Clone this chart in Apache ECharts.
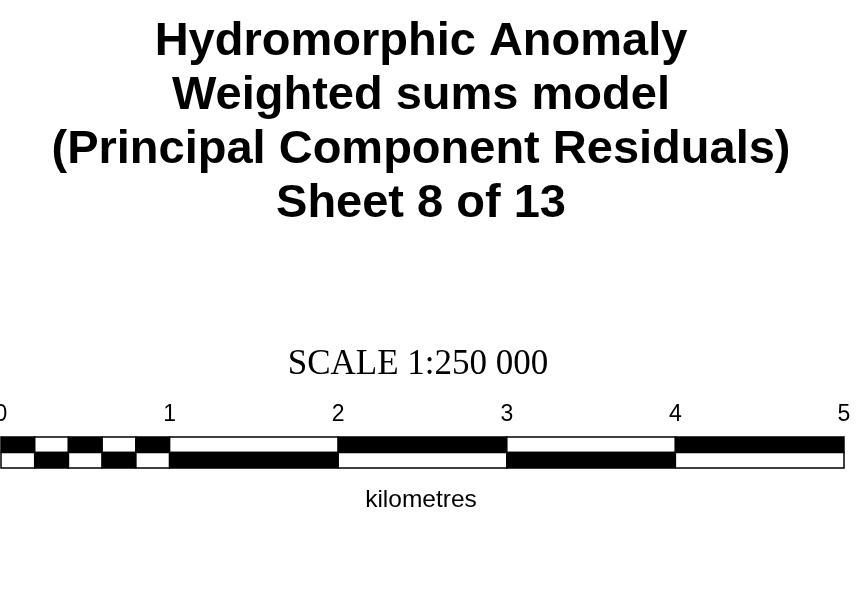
<!DOCTYPE html>
<html>
<head>
<meta charset="utf-8">
<script src="https://cdn.jsdelivr.net/npm/echarts@6/dist/echarts.min.js"></script>
<style>html,body{margin:0;padding:0;background:#fff;}#c{width:861px;height:591px;}</style>
</head>
<body>
<div id="c"></div>
<script>
const titleLines = ['Hydromorphic Anomaly', 'Weighted sums model', '(Principal Component Residuals)', 'Sheet 8 of 13'];
const scaleText = 'SCALE 1:250 000';
const unitText = 'kilometres';
const tickLabels = ['0', '1', '2', '3', '4', '5'];
const segStart = [0, 0.2, 0.4, 0.6, 0.8, 1, 2, 3, 4];
const segEnd = [0.2, 0.4, 0.6, 0.8, 1, 2, 3, 4, 5];
const topRowFill = ['#000', '#fff', '#000', '#fff', '#000', '#fff', '#000', '#fff', '#000'];
const bottomRowFill = ['#fff', '#000', '#fff', '#000', '#fff', '#000', '#fff', '#000', '#fff'];

const data = [];
segStart.forEach((s, i) => {
  data.push([s, segEnd[i], 1, topRowFill[i]]);
  data.push([s, segEnd[i], 0, bottomRowFill[i]]);
});

const chart = echarts.init(document.getElementById('c'), null, {renderer: 'canvas'});
chart.setOption({
  backgroundColor: '#fff',
  animation: false,
  grid: {left: 1, right: 17, top: 437, height: 31, containLabel: false, outerBoundsMode: 'none'},
  xAxis: {
    type: 'value', position: 'top', min: 0, max: 5, interval: 1,
    axisLine: {show: false}, axisTick: {show: false}, splitLine: {show: false},
    axisLabel: {
      show: true, margin: 11, fontSize: 23, color: '#000',
      fontFamily: 'Liberation Sans, Arial, sans-serif',
      formatter: v => tickLabels[Math.round(v)]
    }
  },
  yAxis: {
    type: 'value', min: 0, max: 2, show: false
  },
  series: [{
    type: 'custom',
    data: data,
    renderItem: function (params, api) {
      const p0 = api.coord([api.value(0), api.value(2) + 1]);
      const p1 = api.coord([api.value(1), api.value(2)]);
      return {
        type: 'rect',
        shape: {x: p0[0], y: p0[1], width: p1[0] - p0[0], height: p1[1] - p0[1]},
        style: {fill: data[params.dataIndex][3], stroke: '#000', lineWidth: 1.5}
      };
    }
  }],
  graphic: [
    {
      type: 'text', x: 421, y: 123,
      style: {
        text: titleLines.join('\n'), fill: '#000',
        font: 'bold 47px "Liberation Sans", Arial, sans-serif',
        lineHeight: 54.3, align: 'center', verticalAlign: 'middle',
        textAlign: 'center', textVerticalAlign: 'middle'
      }
    },
    {
      type: 'text', x: 418, y: 365,
      style: {
        text: scaleText, fill: '#000',
        font: '35px "Liberation Serif", "Times New Roman", serif',
        align: 'center', verticalAlign: 'middle',
        textAlign: 'center', textVerticalAlign: 'middle'
      }
    },
    {
      type: 'text', x: 421, y: 500,
      style: {
        text: unitText, fill: '#000',
        font: '24.5px "Liberation Sans", Arial, sans-serif',
        align: 'center', verticalAlign: 'middle',
        textAlign: 'center', textVerticalAlign: 'middle'
      }
    }
  ]
});
</script>
</body>
</html>
